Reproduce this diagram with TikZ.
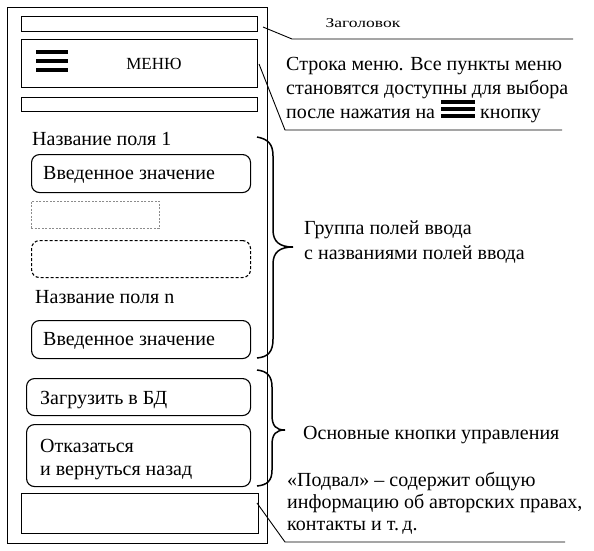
\documentclass[tikz,border=0pt]{standalone}
\usepackage{graphicx}
\usepackage{fontspec}
\setmainfont{Liberation Serif}
\begin{document}
\begin{tikzpicture}[x=1pt,y=-1pt,
  frame/.style={draw, line width=1pt, inner sep=0pt, anchor=north west},
  bar/.style={draw, line width=1.2pt, inner sep=0pt, anchor=north west},
  field/.style={draw, line width=1.1pt, rounded corners=8pt, inner sep=0pt, anchor=north west},
  ghost/.style={draw=black!45, line width=0.8pt, dash pattern=on 2pt off 1.5pt, inner sep=0pt, anchor=north west},
  dfield/.style={draw, line width=1.1pt, dash pattern=on 3pt off 2pt, rounded corners=8pt, inner sep=0pt, anchor=north west},
  lbl/.style={font=\fontsize{20}{24}\selectfont, inner sep=0pt, anchor=base west},
  lead/.style={line width=0.9pt},
  brc/.style={line width=1.5pt},
  ham/.style={line width=3.8pt}
]
\useasboundingbox (0,0) rectangle (594,550);
% phone frame
\node[frame, minimum width=260pt, minimum height=536pt] (phone) at (7,7) {};
% header bar
\node[bar, minimum width=236pt, minimum height=15pt] (title) at (21,16) {};
% menu bar
\node[bar, minimum width=236pt, minimum height=48pt] (menu) at (21,39) {};
\node[font=\fontsize{17}{18}\selectfont, inner sep=0pt, anchor=base] (menutxt) at (154,69) {МЕНЮ};
\draw[ham] (36,52) -- (68,52) (36,61) -- (68,61) (36,70) -- (68,70);
% bar under menu
\node[bar, minimum width=236pt, minimum height=14pt] (sub) at (21,97) {};
% fields
\node[lbl] (name1) at (32,145) {Название поля 1};
\node[field, minimum width=219pt, minimum height=38pt] (f1) at (31,154) {};
\node[lbl] (v1) at (43,179) {Введенное значение};
\node[ghost, minimum width=128pt, minimum height=27pt] (g1) at (31,201) {};
\node[dfield, minimum width=219pt, minimum height=37pt] (g2) at (31,240) {};
\node[lbl] (namen) at (35,303) {Название поля n};
\node[field, minimum width=219pt, minimum height=38pt] (fn) at (31,320) {};
\node[lbl] (vn) at (43,345) {Введенное значение};
% buttons
\node[field, minimum width=224pt, minimum height=37pt] (b1) at (26,378) {};
\node[lbl] (b1t) at (40,404) {Загрузить в БД};
\node[field, minimum width=224pt, minimum height=62pt] (b2) at (26,424) {};
\node[lbl] (b2ta) at (40,452) {Отказаться};
\node[lbl] (b2tb) at (40,475) {и вернуться назад};
% footer
\node[bar, minimum width=237pt, minimum height=40pt] (foot) at (21,493) {};

% annotations
\node[font=\fontsize{13.5}{15}\selectfont, inner sep=0pt, anchor=base] (titlelbl) at (363,27) {\scalebox{1.3}[1]{Заголовок}};
\coordinate (t1) at (263,27);
\coordinate (t2) at (292,39);
\coordinate (t3) at (573,39);
\draw[lead] (t1) -- (t2) -- (t3);

\node[lbl] (m1) at (286,70) {Строка меню. Все пункты меню};
\node[lbl] (m2) at (286,94) {становятся доступны для выбора};
\node[lbl] (m3) at (286,118) {после нажатия на};
\draw[ham] (441,102) -- (475,102) (441,109) -- (475,109) (441,116) -- (475,116);
\node[lbl] (m3b) at (480,118) {кнопку};
\coordinate (mm1) at (259,64);
\coordinate (mm2) at (285,130);
\coordinate (mm3) at (562,130);
\draw[lead] (mm1) -- (mm2) -- (mm3);

% brace 1
\draw[brc] (257,137) .. controls (268,139) and (273,144) .. (273,156)
  -- (273,230) .. controls (273,242) and (280,247) .. (293,247)
  .. controls (280,247) and (273,252) .. (273,264)
  -- (273,339) .. controls (273,352) and (268,357) .. (257,358);
\node[lbl] (grp1) at (304,234) {Группа полей ввода};
\node[lbl] (grp2) at (304,259) {с названиями полей ввода};

% brace 2
\draw[brc] (257,370) .. controls (267,371) and (272,376) .. (272,387)
  -- (272,415) .. controls (272,426) and (276,430) .. (285,430)
  .. controls (276,430) and (272,434) .. (272,445)
  -- (272,470) .. controls (272,481) and (267,485) .. (257,486);
\node[lbl] (btns) at (303,439) {Основные кнопки управления};

% footer annotation
\node[lbl] (ft1) at (287,486) {«Подвал» – содержит общую};
\node[lbl] (ft2) at (287,508) {информацию об авторских правах,};
\node[lbl] (ft3) at (287,530) {контакты и т.\,д.};
\coordinate (fl1) at (257,503);
\coordinate (fl2) at (285,542);
\coordinate (fl3) at (565,542);
\draw[lead] (fl1) -- (fl2) -- (fl3);
\end{tikzpicture}
\end{document}
